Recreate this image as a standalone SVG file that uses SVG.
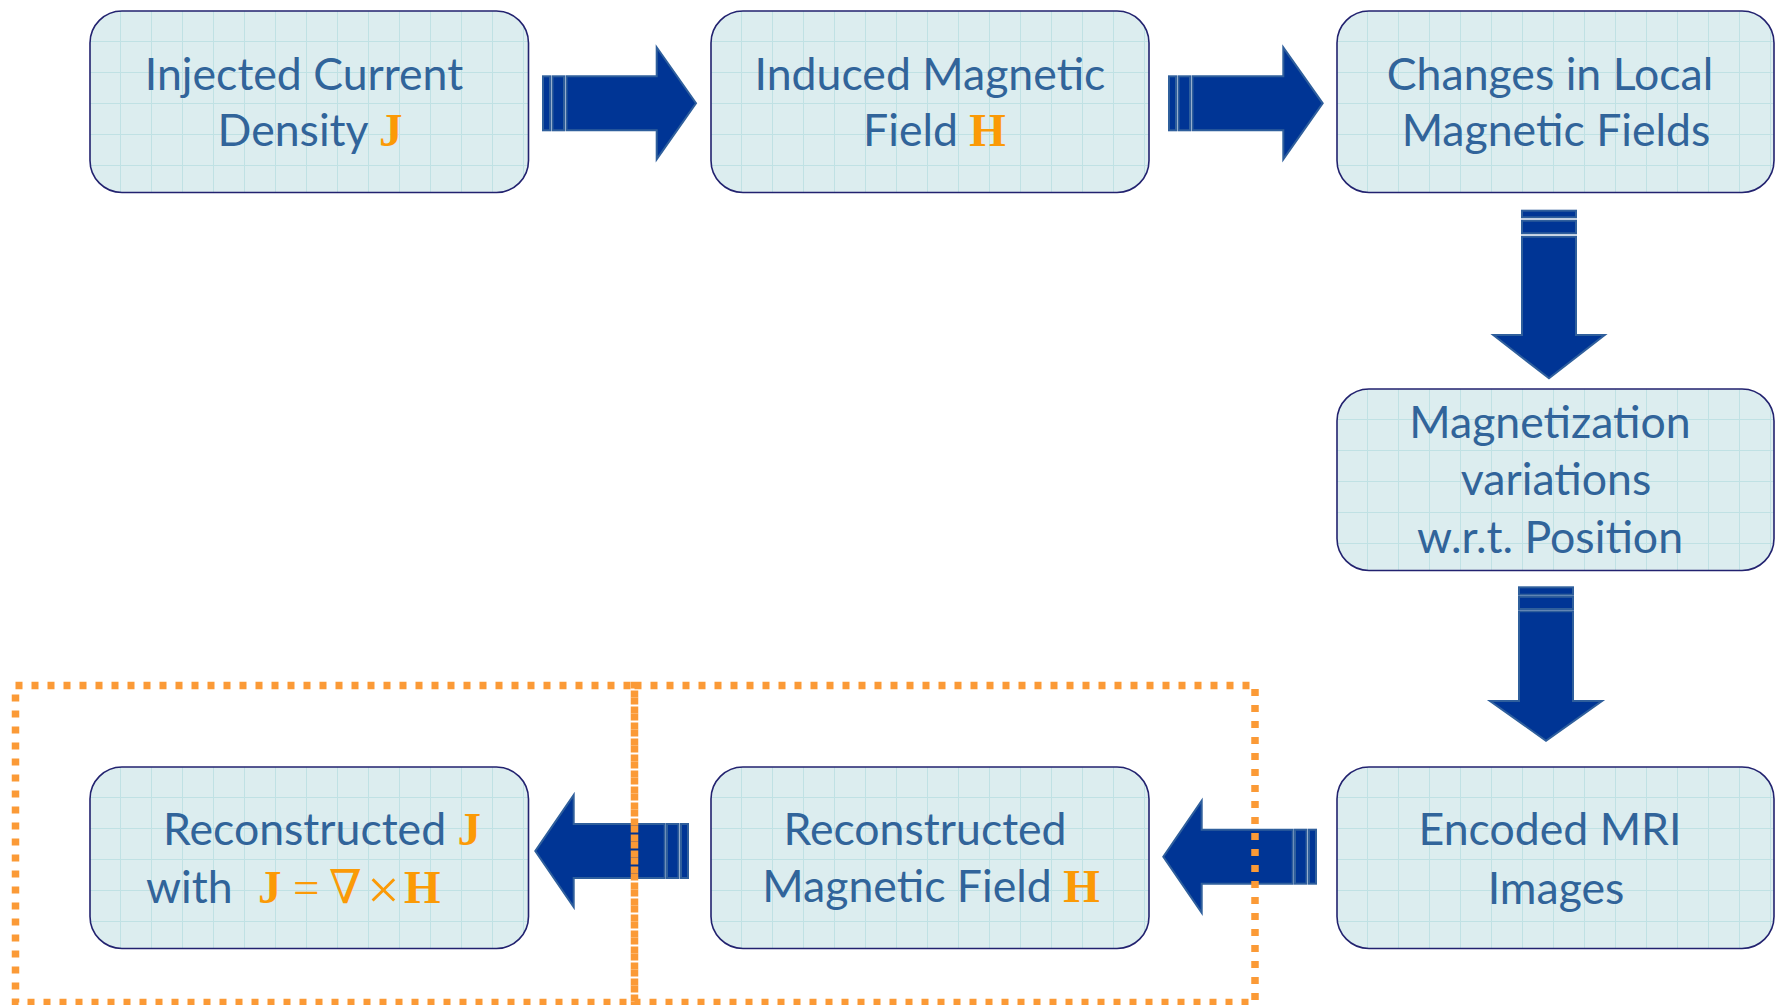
<svg xmlns="http://www.w3.org/2000/svg" width="1775" height="1005" viewBox="0 0 1775 1005">
  <style>
    .box { fill: url(#grid); stroke: #22226f; stroke-width: 1.6; }
    .lbl { font-family: Lato, "Liberation Sans", sans-serif; font-size: 44.6px; fill: #31649a; text-anchor: middle; }
    .lbl-s { font-family: Lato, "Liberation Sans", sans-serif; font-size: 44.6px; fill: #31649a; }
    .sym { font-family: "Liberation Serif", "DejaVu Serif", serif; font-size: 47px; font-weight: bold; fill: #fb9a06; }
    .op { font-family: "Liberation Serif", "DejaVu Serif", serif; font-size: 47px; font-weight: normal; fill: #fb9a06; }
    .op-big { font-size: 58px; }
    .arrow { fill: #003595; stroke: #2f5f9c; stroke-width: 2; stroke-linejoin: miter; }
    .frame { fill: none; stroke: #fb9a36; stroke-width: 7.5; stroke-dasharray: 7 9; }
  </style>
  <defs>
    <!-- graph-paper fill used inside every process box -->
    <pattern id="grid" patternUnits="userSpaceOnUse" width="31" height="31">
      <rect width="31" height="31" fill="#dcedef"/>
      <path d="M30.5 0V31M0 30.5H31" stroke="#c0e1e4" stroke-width="1" fill="none"/>
    </pattern>
  </defs>

  <rect width="1775" height="1005" fill="#ffffff"/>

  <!-- block arrows between the steps -->
  <g id="connectors">
    <!-- row 1, pointing right -->
    <g id="arrow-1-2">
      <rect class="arrow" x="543" y="76.3" width="7" height="54"/>
      <rect class="arrow" x="552.5" y="76.3" width="11.5" height="54"/>
      <path class="arrow" d="M566.5 76.3H656.7V47.3L696 103.3L656.7 159.3V130.3H566.5Z"/>
    </g>
    <g id="arrow-2-3">
      <rect class="arrow" x="1169" y="76.3" width="7" height="54"/>
      <rect class="arrow" x="1178.5" y="76.3" width="11.5" height="54"/>
      <path class="arrow" d="M1192.5 76.3H1283.3V47.3L1322.7 103.3L1283.3 159.3V130.3H1192.5Z"/>
    </g>
    <!-- right column, pointing down -->
    <g id="arrow-3-4">
      <rect class="arrow" x="1522" y="210.7" width="54" height="6.6"/>
      <rect class="arrow" x="1522" y="220.7" width="54" height="12.6"/>
      <path class="arrow" d="M1522 236.7V335H1493.3L1549 378.3L1604.7 335H1576V236.7Z"/>
    </g>
    <g id="arrow-4-5">
      <rect class="arrow" x="1519" y="587.3" width="54" height="7.4"/>
      <rect class="arrow" x="1519" y="596.8" width="54" height="12.2"/>
      <path class="arrow" d="M1519 611.3V701H1490L1546 740.7L1602 701H1573V611.3Z"/>
    </g>
    <!-- row 3, pointing left -->
    <g id="arrow-5-6">
      <rect class="arrow" x="1309" y="829.7" width="7" height="54"/>
      <rect class="arrow" x="1295" y="829.7" width="11.5" height="54"/>
      <path class="arrow" d="M1292.7 829.7H1201.7V800.7L1163.3 856.7L1201.7 912.7V883.7H1292.7Z"/>
    </g>
    <g id="arrow-6-7">
      <rect class="arrow" x="681" y="824" width="7" height="54"/>
      <rect class="arrow" x="667" y="824" width="11.5" height="54"/>
      <path class="arrow" d="M664.7 824H573.7V795L535.3 851L573.7 907V878H664.7Z"/>
    </g>
  </g>

  <!-- process steps -->
  <g id="injected-current" transform="translate(90,11)">
    <rect class="box" width="438.5" height="181.5" rx="32"/>
    <text class="lbl" x="214" y="78.5">Injected Current</text>
    <text class="lbl" x="220" y="135">Density <tspan class="sym">J</tspan></text>
  </g>

  <g id="induced-field" transform="translate(711,11)">
    <rect class="box" width="438" height="181.5" rx="32"/>
    <text class="lbl" x="219" y="79">Induced Magnetic</text>
    <text class="lbl" x="223.5" y="135">Field <tspan class="sym">H</tspan></text>
  </g>

  <g id="local-fields" transform="translate(1337,11)">
    <rect class="box" width="437" height="181.5" rx="32"/>
    <text class="lbl" x="213" y="79">Changes in Local</text>
    <text class="lbl" x="219" y="135">Magnetic Fields</text>
  </g>

  <g id="magnetization" transform="translate(1337,389)">
    <rect class="box" width="437" height="181.5" rx="32"/>
    <text class="lbl" x="213" y="49">Magnetization</text>
    <text class="lbl" x="219" y="106">variations</text>
    <text class="lbl" x="213" y="163.5">w.r.t. Position</text>
  </g>

  <g id="mri-images" transform="translate(1337,767)">
    <rect class="box" width="437" height="181.5" rx="32"/>
    <text class="lbl" x="213" y="78">Encoded MRI</text>
    <text class="lbl" x="219" y="137">Images</text>
  </g>

  <g id="reconstructed-h" transform="translate(711,767)">
    <rect class="box" width="438" height="181.5" rx="32"/>
    <text class="lbl" x="214" y="78">Reconstructed</text>
    <text class="lbl" x="220" y="135">Magnetic Field <tspan class="sym">H</tspan></text>
  </g>

  <g id="reconstructed-j" transform="translate(90,767)">
    <rect class="box" width="438.5" height="181.5" rx="32"/>
    <text class="lbl" x="232" y="78">Reconstructed <tspan class="sym">J</tspan></text>
    <text class="lbl-s" y="136"><tspan x="56">with</tspan><tspan class="sym" x="168">J</tspan><tspan class="op" x="203">=</tspan><tspan class="op" x="239">∇</tspan><tspan class="op op-big" x="277" y="142">×</tspan><tspan class="sym" x="314" y="136">H</tspan></text>
  </g>

  <!-- dotted frames around the reconstruction stage -->
  <g id="reconstruction-frames">
    <rect class="frame" x="15.5" y="685.5" width="619" height="317"/>
    <rect class="frame" x="634.5" y="685.5" width="620.5" height="317"/>
  </g>
</svg>
